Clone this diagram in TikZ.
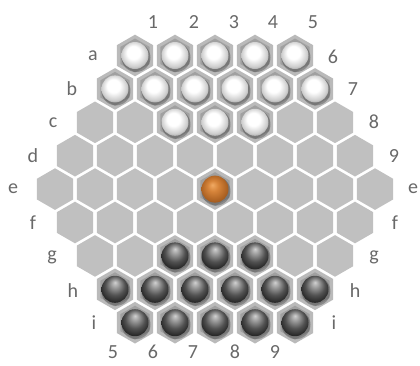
\documentclass[tikz,border=0pt]{standalone}
\usepackage{fontspec}
\setmainfont{Carlito}
\definecolor{labgray}{RGB}{105,105,105}
\definecolor{hexempty}{RGB}{192,192,192}
\definecolor{hexfull}{RGB}{186,186,186}
\definecolor{hexinner}{RGB}{160,160,160}
\pgfdeclareradialshading{wball}{\pgfpoint{-4bp}{8bp}}{color(0bp)=(white); color(12bp)=(white); color(24bp)=(black!20); color(30bp)=(black!42); color(38bp)=(black!55)}
\pgfdeclareradialshading{bball}{\pgfpoint{0bp}{13bp}}{color(0bp)=(black!18); color(6bp)=(black!35); color(18bp)=(black!68); color(28bp)=(black!85); color(40bp)=(black!78)}
\definecolor{olight}{RGB}{240,170,100}
\definecolor{omid}{RGB}{214,132,58}
\definecolor{odark}{RGB}{160,88,28}
\pgfdeclareradialshading{oball}{\pgfpoint{-5bp}{8bp}}{color(0bp)=(olight); color(10bp)=(omid); color(26bp)=(odark!90!omid); color(38bp)=(odark!80!black)}
\tikzset{
  lab/.style={text=labgray,font=\fontsize{20}{20}\selectfont,inner sep=0pt,anchor=center},
  hexe/.style={fill=hexempty},
  hexf/.style={fill=hexfull},
  hexi/.style={fill=hexinner},
}
\begin{document}
\begin{tikzpicture}[x=1pt,y=-1pt]
\useasboundingbox (0,0) rectangle (420,365);
\fill[white] (0,0) rectangle (420,365);
\foreach \r in {0,...,8}{
  \pgfmathtruncatemacro\n{9-abs(\r-4)}
  \foreach \j in {1,...,\n}{
    \pgfmathsetmacro\cx{215+(\j-1-(\n-1)/2)*40}
    \pgfmathsetmacro\cy{55.5+33.4*\r}
    \pgfmathtruncatemacro\s{(\r<2) ? 1 : ((\r==2 && \j>2 && \j<6) ? 1 : ((\r>6) ? 2 : ((\r==6 && \j>2 && \j<6) ? 2 : ((\r==4 && \j==5) ? 3 : 0))))}
    \ifnum\s=0
      \fill[hexe] (\cx,\cy) +(90:20.8) -- +(150:20.8) -- +(210:20.8) -- +(270:20.8) -- +(330:20.8) -- +(30:20.8) -- cycle;
    \else
      \fill[hexf] (\cx,\cy) +(90:20.8) -- +(150:20.8) -- +(210:20.8) -- +(270:20.8) -- +(330:20.8) -- +(30:20.8) -- cycle;
      \fill[hexi] (\cx,\cy) +(90:17) -- +(150:17) -- +(210:17) -- +(270:17) -- +(330:17) -- +(30:17) -- cycle;
      \fill[black,opacity=0.25] (\cx+1,\cy+2) circle (14.5);
      \ifnum\s=1 \shade[shading=wball] (\cx,\cy) circle (13.5); \fi
      \ifnum\s=2 \shade[shading=bball] (\cx,\cy) circle (13.5); \fi
      \ifnum\s=3 \shade[shading=oball] (\cx,\cy) circle (13.5); \fi
    \fi
  }
}
% top numbers
\node[lab] (t1) at (153,22) {1};
\node[lab] (t2) at (194,22) {2};
\node[lab] (t3) at (234,22) {3};
\node[lab] (t4) at (273,22) {4};
\node[lab] (t5) at (313,22) {5};
% left letters
\node[lab] (la) at (93,56) {a};
\node[lab] (lb) at (72,89) {b};
\node[lab] (lc) at (53,123) {c};
\node[lab] (ld) at (33,156) {d};
\node[lab] (le) at (13,189) {e};
\node[lab] (lf) at (33,223) {f};
\node[lab] (lg) at (52,257) {g};
\node[lab] (lh) at (73,291) {h};
\node[lab] (li) at (94,323) {i};
% right labels
\node[lab] (r6) at (333,57) {6};
\node[lab] (r7) at (353,89) {7};
\node[lab] (r8) at (374,122) {8};
\node[lab] (r9) at (394,156) {9};
\node[lab] (re) at (413,189) {e};
\node[lab] (rf) at (395,223) {f};
\node[lab] (rg) at (374,257) {g};
\node[lab] (rh) at (355,291) {h};
\node[lab] (ri) at (334,323) {i};
% bottom numbers
\node[lab] (b5) at (113,352) {5};
\node[lab] (b6) at (153,352) {6};
\node[lab] (b7) at (193,352) {7};
\node[lab] (b8) at (235,352) {8};
\node[lab] (b9) at (275,352) {9};
\end{tikzpicture}
\end{document}
